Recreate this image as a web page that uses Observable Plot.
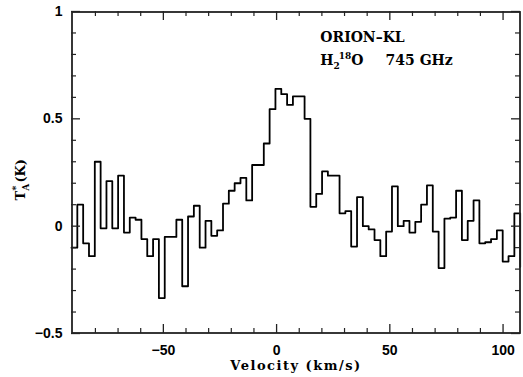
<!DOCTYPE html>
<html><head><meta charset="utf-8">
<script src="https://cdn.jsdelivr.net/npm/d3@7"></script>
<script src="https://cdn.jsdelivr.net/npm/@observablehq/plot@0.6"></script>
<style>body{margin:0;background:#fff} svg{display:block;background:#fff}</style>
</head><body><div id="chart"></div>
<script>
// Channel left-edge velocities (km/s)
const velocity = [-90.56,-87.99,-85.41,-82.84,-80.27,-77.70,-75.12,-72.55,-69.98,-67.40,
-64.83,-62.26,-59.68,-57.11,-54.54,-51.97,-49.39,-46.82,-44.25,-41.67,
-39.10,-36.53,-33.95,-31.38,-28.81,-26.24,-23.66,-21.09,-18.52,-15.94,
-13.37,-10.80,-8.22,-5.65,-3.08,-0.51,2.07,4.64,7.21,9.79,
12.36,14.93,17.51,20.08,22.65,25.22,27.80,30.37,32.94,35.52,
38.09,40.66,43.24,45.81,48.38,50.95,53.53,56.10,58.67,61.25,
63.82,66.39,68.97,71.54,74.11,76.68,79.26,81.83,84.40,86.98,
89.55,92.12,94.70,97.27,99.84,102.41,104.99,107.56];
// Antenna temperature T_A* (K)
const tA = [-0.10,0.10,-0.08,-0.14,0.30,-0.01,0.21,-0.01,0.235,-0.03,
0.04,0.03,-0.06,-0.14,-0.06,-0.335,-0.05,-0.05,0.03,-0.28,
0.045,0.095,-0.10,0.025,-0.045,-0.02,0.105,0.165,0.20,0.225,
0.12,0.285,0.285,0.385,0.545,0.64,0.615,0.565,0.605,0.605,
0.50,0.09,0.15,0.255,0.235,0.235,0.06,0.07,-0.095,0.135,
0.0,-0.015,-0.065,-0.14,-0.025,0.185,0.0,0.025,-0.03,0.02,
0.10,0.19,-0.025,-0.195,0.035,0.04,0.165,-0.065,0.025,0.12,
-0.08,-0.075,-0.06,-0.02,-0.165,-0.14,0.06,-0.19];

const xMajorTicks = [-50, 0, 50, 100];
const xMinorTicks = [-80,-70,-60,-40,-30,-20,-10,10,20,30,40,60,70,80,90];
const yMajorTicks = [-0.5, 0, 0.5, 1];
const yMinorTicks = [-0.4,-0.3,-0.2,-0.1,0.1,0.2,0.3,0.4,0.6,0.7,0.8,0.9];
const xDomain = [-90.56, 107.7];
const yDomain = [-0.5, 1];
const xLabel = "Velocity (km/s)";
const yLabel = "TA* (K)";
const annotationX = [19.3, 19.3];
const annotationY = [0.88, 0.772];
const annotationText = ["ORION–KL", "H2-18-O 745 GHz"];

const data = velocity.map((v, i) => ({v, t: tA[i]}));
const W = 523, H = 377, mL = 71, mR = 3, mT = 11, mB = 44;
const fw = W - mL - mR, fh = H - mT - mB;
const serif = "DejaVu Serif";
const sans = "Liberation Sans";
const ink = "#222";

const chart = Plot.plot({
  width: W, height: H,
  marginLeft: mL, marginRight: mR, marginTop: mT, marginBottom: mB,
  style: {fontFamily: sans, fontSize: "14px", fontWeight: "bold", background: "#fff", color: "#000"},
  x: {domain: xDomain, axis: null},
  y: {domain: yDomain, axis: null},
  marks: [
    Plot.line(data, {x: "v", y: "t", curve: "step-after", stroke: "#000", strokeWidth: 1.8}),
    Plot.frame({stroke: ink, strokeWidth: 1.8, inset: 0.5}),
    // inward ticks: bottom & top
    Plot.ruleX(xMajorTicks, {x: d => d, insetTop: fh - 9, stroke: ink, strokeWidth: 1.3}),
    Plot.ruleX(xMinorTicks, {x: d => d, insetTop: fh - 5, stroke: ink, strokeWidth: 1.2}),
    Plot.ruleX(xMajorTicks, {x: d => d, insetBottom: fh - 9, stroke: ink, strokeWidth: 1.3}),
    Plot.ruleX(xMinorTicks, {x: d => d, insetBottom: fh - 5, stroke: ink, strokeWidth: 1.2}),
    // inward ticks: left & right
    Plot.ruleY(yMajorTicks, {y: d => d, insetRight: fw - 9, stroke: ink, strokeWidth: 1.3}),
    Plot.ruleY(yMinorTicks, {y: d => d, insetRight: fw - 5, stroke: ink, strokeWidth: 1.2}),
    Plot.ruleY(yMajorTicks, {y: d => d, insetLeft: fw - 9, stroke: ink, strokeWidth: 1.3}),
    Plot.ruleY(yMinorTicks, {y: d => d, insetLeft: fw - 5, stroke: ink, strokeWidth: 1.2}),
    Plot.axisX(xMajorTicks, {anchor: "bottom", tickSize: 0, tickPadding: 12, tickFormat: d3.format(""), label: null, fontSize: 14, fontWeight: "bold"}),
    Plot.axisY(yMajorTicks, {anchor: "left", tickSize: 0, tickPadding: 9, tickFormat: d3.format(""), label: null, fontSize: 14, fontWeight: "bold"}),
    Plot.text([xLabel], {text: d => d, frameAnchor: "bottom", dy: 36, fontFamily: serif, fontSize: 13, fontWeight: "bold"}),
    Plot.text([yLabel], {text: d => d, frameAnchor: "left", dx: -51, dy: 28, rotate: -90, fontFamily: serif, fontSize: 13, fontWeight: "bold"}),
    Plot.text(annotationText, {x: (d, i) => annotationX[i], y: (d, i) => annotationY[i], text: d => d, textAnchor: "start", fontFamily: serif, fontSize: 14, fontWeight: "bold"})
  ]
});

d3.select(chart).selectAll("text").each(function () {
  const t = d3.select(this);
  const c = this.textContent;
  if (c === "H2-18-O 745 GHz") {
    t.text(null);
    t.append("tspan").text("H");
    t.append("tspan").attr("font-size", 9).attr("dy", 4).text("2");
    t.append("tspan").attr("font-size", 9).attr("dy", -10).attr("dx", -1).text("18");
    t.append("tspan").attr("dy", 6).text("O");
    t.append("tspan").attr("dx", 22).text("745 GHz");
  } else if (c === yLabel) {
    t.text(null);
    t.append("tspan").text("T");
    t.append("tspan").attr("font-size", 9).attr("dy", 4).text("A");
    t.append("tspan").attr("font-size", 10).attr("dy", -10).attr("dx", -7).text("*");
    t.append("tspan").attr("dy", 6).attr("dx", 3).text("(K)");
  } else if (c === xLabel) {
    t.attr("letter-spacing", 1.5);
  }
});
document.getElementById("chart").appendChild(chart);
</script>
</body></html>
